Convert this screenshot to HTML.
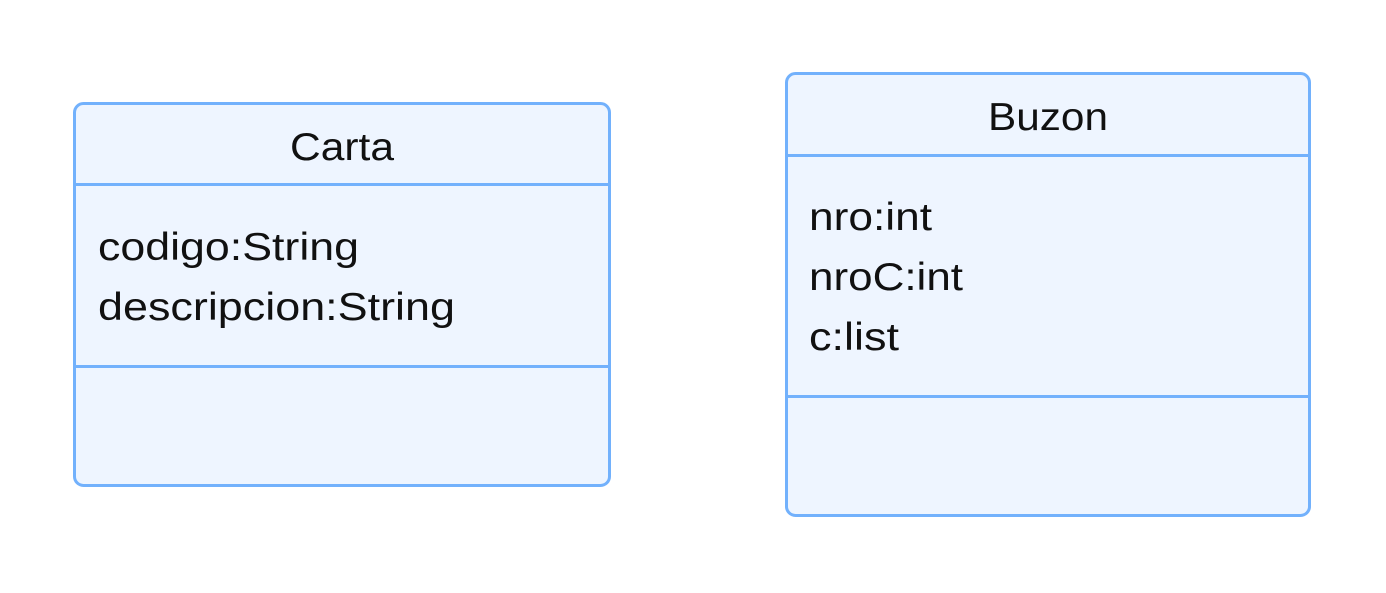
<!DOCTYPE html>
<html><head><meta charset="utf-8"><style>
html,body{margin:0;padding:0;background:#fff;width:1386px;height:593px;overflow:hidden}
text{font-family:"Liberation Sans",sans-serif;fill:#111;font-size:39px}
</style></head><body>
<svg width="1386" height="593" xmlns="http://www.w3.org/2000/svg">
<g>
<rect x="74.5" y="103.5" width="535" height="382" rx="9" fill="#eef5ff" stroke="#72b1fc" stroke-width="3"/>
<line x1="74" y1="184.5" x2="610" y2="184.5" stroke="#72b1fc" stroke-width="3"/>
<line x1="74" y1="366.5" x2="610" y2="366.5" stroke="#72b1fc" stroke-width="3"/>
<text x="290" y="160" textLength="104" lengthAdjust="spacingAndGlyphs">Carta</text>
<text x="98" y="260" textLength="261" lengthAdjust="spacingAndGlyphs">codigo:String</text>
<text x="98" y="320" textLength="357" lengthAdjust="spacingAndGlyphs">descripcion:String</text>
</g>
<g>
<rect x="786.5" y="73.5" width="523" height="442" rx="9" fill="#eef5ff" stroke="#72b1fc" stroke-width="3"/>
<line x1="786" y1="155.5" x2="1310" y2="155.5" stroke="#72b1fc" stroke-width="3"/>
<line x1="786" y1="396.5" x2="1310" y2="396.5" stroke="#72b1fc" stroke-width="3"/>
<text x="988" y="130" textLength="120" lengthAdjust="spacingAndGlyphs">Buzon</text>
<text x="809" y="230" textLength="123" lengthAdjust="spacingAndGlyphs">nro:int</text>
<text x="809" y="290" textLength="154" lengthAdjust="spacingAndGlyphs">nroC:int</text>
<text x="809" y="350" textLength="90" lengthAdjust="spacingAndGlyphs">c:list</text>
</g>
</svg>
</body></html>
